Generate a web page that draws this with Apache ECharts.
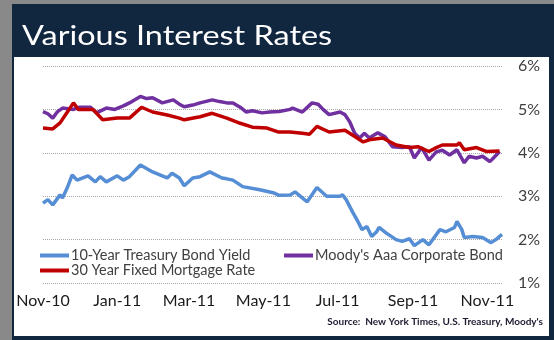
<!DOCTYPE html>
<html>
<head>
<meta charset="utf-8">
<script src="https://cdn.jsdelivr.net/npm/echarts@6/dist/echarts.min.js"></script>
<style>html,body{margin:0;padding:0;background:#888;}#c{width:554px;height:340px;}</style>
</head>
<body>
<div id="c"></div>
<script>
// Days since 1 Nov 2010
var xTickDays = [0, 61, 120, 181, 242, 304, 365];
var xTickLabels = ['Nov-10', 'Jan-11', 'Mar-11', 'May-11', 'Jul-11', 'Sep-11', 'Nov-11'];
var yTickValues = [1, 2, 3, 4, 5, 6];

var seriesNames = ['10-Year Treasury Bond Yield', "Moody's Aaa Corporate Bond", '30 Year Fixed Mortgage Rate'];

var treasuryDays = [0,4,8,14,16,20,24,28,37,43,47,52,61,66,71,80,90,102,106,112,116,123,129,137,147,151,156,164,178,189,194,203,207,217,225,233,244,246,249,254,258,262,266,270,274,276,282,290,295,301,305,312,317,326,331,338,340,344,346,353,361,368,372,377];
var treasuryValues = [2.84,2.92,2.80,3.03,2.96,3.20,3.49,3.37,3.47,3.33,3.45,3.33,3.47,3.37,3.45,3.72,3.56,3.42,3.53,3.42,3.24,3.42,3.45,3.56,3.42,3.40,3.37,3.22,3.15,3.08,3.02,3.03,3.10,2.87,3.20,3.00,3.00,3.03,2.92,2.65,2.45,2.23,2.30,2.07,2.18,2.28,2.15,2.00,1.96,2.02,1.86,2.00,1.88,2.23,2.18,2.28,2.42,2.23,2.05,2.07,2.05,1.93,2.00,2.12];

var moodysDays = [0,4,8,12,16,25,30,39,44,52,59,66,71,80,85,90,98,107,112,116,123,129,139,145,151,156,162,167,172,180,186,194,203,205,213,221,226,230,235,244,248,252,256,260,264,268,275,281,287,295,301,305,311,317,323,328,334,340,346,350,356,361,367,369,375];
var moodysValues = [4.95,4.90,4.80,4.95,5.03,5.00,5.05,5.05,4.92,5.03,5.00,5.08,5.15,5.30,5.25,5.27,5.15,5.22,5.12,5.06,5.10,5.15,5.22,5.18,5.15,5.15,5.05,4.94,4.97,4.92,4.94,4.95,5.00,5.03,4.94,5.15,5.12,5.00,4.88,4.94,4.88,4.71,4.45,4.34,4.45,4.34,4.46,4.37,4.14,4.12,4.14,3.88,4.12,3.83,4.02,4.06,3.95,4.07,3.77,3.92,3.88,3.92,3.80,3.85,4.03];

var mortgageDays = [0,8,14,20,25,29,41,49,61,71,81,90,102,112,116,129,139,151,162,172,184,193,203,213,219,225,235,248,258,263,268,279,290,301,308,317,323,328,340,342,346,356,364,375];
var mortgageValues = [4.57,4.55,4.69,4.94,5.15,5.00,5.00,4.76,4.80,4.80,5.05,4.94,4.87,4.80,4.76,4.83,4.91,4.80,4.68,4.59,4.57,4.48,4.48,4.45,4.43,4.61,4.48,4.52,4.34,4.25,4.30,4.34,4.18,4.12,4.14,4.03,4.12,4.18,4.18,4.23,4.07,4.12,4.03,4.04];

function pairs(d, v) { return d.map(function (x, i) { return [x, v[i]]; }); }

var FONT = 'Lato';
var legendText = {color: '#404040', fontSize: 14.5, fontFamily: FONT, padding: [0, 0, 0, -3]};
function legendAt(name, left, top) {
  return {data: [name], orient: 'horizontal', left: left, top: top, itemWidth: 29, itemHeight: 4,
          icon: 'rect', padding: 0, textStyle: legendText};
}
var chart = echarts.init(document.getElementById('c'), null, {renderer: 'canvas'});
chart.setOption({
  animation: false,
  backgroundColor: '#11263f',
  graphic: [
    {type: 'rect', z: -100, shape: {x: 0, y: 0, width: 12, height: 340}, style: {fill: '#898989'}},
    {type: 'rect', z: -100, shape: {x: 0, y: 0, width: 554, height: 4}, style: {fill: '#898989'}},
    {type: 'rect', z: -99, shape: {x: 14, y: 57, width: 535, height: 279}, style: {fill: '#ffffff'}},
    {type: 'text', z: 10, x: 22, y: 36, scaleX: 1.2, style: {text: 'Various Interest Rates', fill: '#ffffff', font: '27px ' + FONT, verticalAlign: 'middle'}},
    {type: 'text', z: 10, x: 543, y: 322, style: {text: "Source:  New York Times, U.S. Treasury, Moody's", fill: '#1c1c30', font: 'bold 10px ' + FONT, align: 'right', verticalAlign: 'middle'}}
  ],
  grid: {left: 43, right: 52, top: 66, bottom: 57, containLabel: false},
  legend: [
    legendAt(seriesNames[0], 40, 248),
    legendAt(seriesNames[2], 40, 263),
    legendAt(seriesNames[1], 284, 248)
  ],
  xAxis: {
    type: 'value', min: 0, max: 377,
    axisLine: {show: false}, axisTick: {show: false}, splitLine: {show: false},
    axisLabel: {
      customValues: xTickDays,
      formatter: function (v) { var i = xTickDays.indexOf(v); return i >= 0 ? xTickLabels[i] : ''; },
      color: '#1a1a1a', fontSize: 16, fontFamily: FONT, margin: 10
    }
  },
  yAxis: {
    type: 'value', position: 'right', min: 1, max: 6, interval: 1,
    axisLine: {show: false}, axisTick: {show: false},
    splitLine: {lineStyle: {color: '#a6a6a6', type: [1, 1], width: 1}},
    axisLabel: {formatter: '{value}%', color: '#404040', fontSize: 16, fontFamily: FONT, margin: 16}
  },
  series: [
    {name: seriesNames[0], type: 'line', data: pairs(treasuryDays, treasuryValues), showSymbol: false, color: '#558ed5', lineStyle: {width: 3.5}},
    {name: seriesNames[1], type: 'line', data: pairs(moodysDays, moodysValues), showSymbol: false, color: '#7030a0', lineStyle: {width: 3.5}},
    {name: seriesNames[2], type: 'line', data: pairs(mortgageDays, mortgageValues), showSymbol: false, color: '#c00000', lineStyle: {width: 3.5}}
  ]
});
</script>
</body>
</html>
